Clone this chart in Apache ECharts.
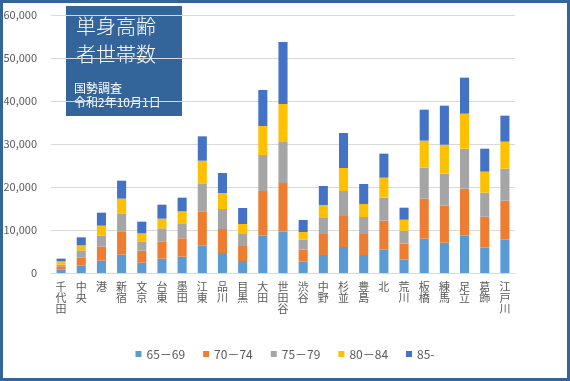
<!DOCTYPE html>
<html><head><meta charset="utf-8">
<script src="https://cdn.jsdelivr.net/npm/echarts@6/dist/echarts.min.js"></script>
<style>html,body{margin:0;padding:0;background:#fff}#c{width:570px;height:381px}</style>
</head><body><div id="c"></div>
<script>
const categories = ['千代田','中央','港','新宿','文京','台東','墨田','江東','品川','目黒','大田','世田谷','渋谷','中野','杉並','豊島','北','荒川','板橋','練馬','足立','葛飾','江戸川'];
const seriesNames = ['65－69','70－74','75－79','80－84','85-'];
const a65 = [780,1780,2870,4260,2400,3330,3800,6430,4650,2790,8680,9610,2640,4190,6050,4190,5430,3100,7980,7050,8680,5890,7750];
const a70 = [780,1860,3250,5430,2790,4030,4260,7910,5580,3490,10390,11320,2790,4880,7210,4880,6740,3720,9310,8610,10930,7210,9070];
const a75 = [390,1630,2560,4190,2170,3030,3490,6510,4650,2790,8370,9540,2320,3720,5810,3950,5350,3020,7210,7440,9300,5580,7440];
const a80 = [770,1160,2330,3410,1860,2250,2790,5270,3720,2330,6750,8830,1780,3020,5350,3030,4650,2560,6280,6740,8140,4890,6280];
const a85 = [620,1860,3020,4180,2720,3250,3180,5660,4660,3720,8370,14420,2800,4420,8140,4650,5580,2790,7200,9070,8380,5340,6050];
const titleLines = ['単身高齢','者世帯数'];
const subLines = ['国勢調査','令和2年10月1日'];
const colors = ['#5B9BD5','#ED7D31','#A5A5A5','#FFC000','#4472C4'];
const dataSets = [a65,a70,a75,a80,a85];
const FONT = '"Noto Sans CJK JP", "Noto Sans", sans-serif';

const chart = echarts.init(document.getElementById('c'));
chart.setOption({
  animation:false,
  textStyle:{fontFamily:FONT},
  grid:{left:51,right:55,top:15,bottom:108,containLabel:false},
  legend:{
    bottom:16, left:'center', itemWidth:6, itemHeight:6, itemGap:18,
    icon:'rect',
    textStyle:{color:'#595959',fontSize:12,fontFamily:FONT},
    data:seriesNames
  },
  xAxis:{
    type:'category', data:categories,
    axisLine:{lineStyle:{color:'#d9d9d9',width:1}},
    axisTick:{show:false},
    axisLabel:{interval:0,color:'#595959',fontSize:11,lineHeight:11,margin:8,
      formatter:v=>v.split('').join('\n')}
  },
  yAxis:{
    type:'value', min:0, max:60000, interval:10000,
    axisLine:{show:false}, axisTick:{show:false},
    splitLine:{lineStyle:{color:'#d9d9d9',width:1}},
    axisLabel:{color:'#595959',fontSize:11,margin:14,
      formatter:v=>v.toLocaleString('en-US')}
  },
  series: seriesNames.map((n,i)=>({
    name:n, type:'bar', stack:'s', data:dataSets[i], barWidth:'45%',
    itemStyle:{color:colors[i]}
  })),
  graphic:[
    {type:'rect',shape:{x:1.5,y:1.5,width:567,height:378},style:{fill:null,stroke:'#34659A',lineWidth:3},z:100},
    {type:'group',left:66,top:6,z:100,children:[
      {type:'rect',shape:{x:0,y:0,width:116,height:110},style:{fill:'#34659A'}},
      {type:'text',x:10,y:6,style:{text:titleLines.join('\n'),fill:'#fff',font:'300 20px '+FONT,lineHeight:28}},
      {type:'text',x:8,y:75,style:{text:subLines.join('\n'),fill:'#fff',font:'12px '+FONT,lineHeight:14}}
    ]}
  ]
});
</script></body></html>
